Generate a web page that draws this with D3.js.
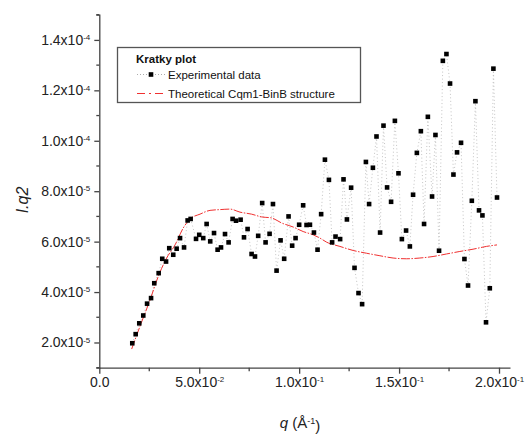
<!DOCTYPE html>
<html>
<head>
<meta charset="utf-8">
<script src="https://cdn.jsdelivr.net/npm/d3@7"></script>
<style>
  body { margin: 0; background: #fff; }
  svg { display: block; font-family: "Liberation Sans", Arial, sans-serif; }
  .axis path, .axis line { stroke: #444; stroke-width: 1.3; }
  .axis text { fill: #222; font-size: 14px; }
</style>
</head>
<body>
<div id="chart"></div>
<script>
// Experimental data: q (1/Å) and I.q2 (in units of 1e-5)
const expQ = [
  0.0165, 0.0182, 0.0200, 0.0220, 0.0239, 0.0259, 0.0275, 0.0297, 0.0315, 0.0334,
  0.0350, 0.0370, 0.0387, 0.0404, 0.0424, 0.0442, 0.0457, 0.0484, 0.0500, 0.0520,
  0.0537, 0.0555, 0.0574, 0.0592, 0.0609, 0.0629, 0.0647, 0.0667, 0.0684, 0.0707,
  0.0724, 0.0742, 0.0762, 0.0779, 0.0795, 0.0815, 0.0832, 0.0852, 0.0869, 0.0887,
  0.0907, 0.0925, 0.0947, 0.0965, 0.0982, 0.1000, 0.1020, 0.1037, 0.1054, 0.1074,
  0.1092, 0.1110, 0.1129, 0.1149, 0.1165, 0.1182, 0.1205, 0.1222, 0.1239, 0.1260,
  0.1277, 0.1297, 0.1315, 0.1334, 0.1350, 0.1369, 0.1387, 0.1405, 0.1422, 0.1440,
  0.1460, 0.1479, 0.1497, 0.1514, 0.1535, 0.1554, 0.1570, 0.1589, 0.1609, 0.1625,
  0.1644, 0.1665, 0.1682, 0.1700, 0.1719, 0.1737, 0.1755, 0.1772, 0.1790, 0.1810,
  0.1827, 0.1845, 0.1864, 0.1882, 0.1900, 0.1917, 0.1935, 0.1954, 0.1972, 0.1990
];
const expI = [
  1.97, 2.33, 2.76, 3.07, 3.54, 3.76, 4.35, 4.75, 5.32, 5.21,
  5.74, 5.48, 5.72, 6.14, 5.77, 6.84, 6.90, 6.11, 6.27, 6.14,
  6.70, 6.01, 6.34, 5.68, 5.77, 6.30, 5.97, 6.90, 6.83, 6.87,
  6.17, 6.50, 5.51, 5.41, 6.23, 7.53, 5.97, 6.31, 7.49, 4.85,
  6.05, 5.32, 7.00, 5.84, 6.14, 6.67, 7.44, 6.66, 6.67, 6.36,
  5.68, 7.09, 9.25, 8.45, 5.97, 6.20, 6.10, 8.47, 6.88, 8.14,
  4.96, 3.96, 3.52, 9.16, 7.49, 8.93, 10.17, 6.36, 10.60, 8.15,
  7.58, 10.79, 8.71, 6.10, 6.44, 5.81, 7.86, 9.52, 10.38, 6.70,
  10.95, 7.79, 10.23, 5.64, 13.17, 13.44, 12.27, 8.66, 9.54, 9.92,
  5.31, 4.26, 7.62, 11.57, 7.24, 7.04, 2.80, 4.15, 12.86, 7.75
];

// Theoretical Cqm1-BinB curve
const theoQ = [
  0.0162, 0.0203, 0.0254, 0.0295, 0.0337, 0.0379, 0.0420, 0.0454, 0.0504, 0.0554,
  0.0604, 0.0654, 0.0704, 0.0762, 0.0812, 0.0862, 0.0912, 0.0970, 0.1020, 0.1070,
  0.1104, 0.1137, 0.1204, 0.1270, 0.1337, 0.1404, 0.1470, 0.1537, 0.1604, 0.1670,
  0.1737, 0.1804, 0.1870, 0.1937, 0.1990
];
const theoI = [
  1.74, 2.63, 3.69, 4.62, 5.35, 5.87, 6.54, 6.90, 7.09, 7.24,
  7.27, 7.29, 7.17, 7.09, 6.98, 6.94, 6.74, 6.58, 6.40, 6.27,
  6.14, 5.98, 5.81, 5.65, 5.54, 5.44, 5.35, 5.32, 5.35, 5.41,
  5.51, 5.61, 5.70, 5.81, 5.87
];
const intensityUnit = 1e-5;

const xTicks = [0, 0.05, 0.1, 0.15, 0.2];
const xMinorTicks = [0.025, 0.075, 0.125, 0.175];
const yTicks = [2e-5, 4e-5, 6e-5, 8e-5, 1e-4, 1.2e-4, 1.4e-4];
const yMinorTicks = [1e-5, 3e-5, 5e-5, 7e-5, 9e-5, 1.1e-4, 1.3e-4, 1.5e-4];

const legendTitle = 'Kratky plot';
const legendNames = ['Experimental data', 'Theoretical Cqm1-BinB structure'];

const width = 527, height = 436;

const svg = d3.select('#chart').append('svg')
  .attr('width', width)
  .attr('height', height);

const x = d3.scaleLinear().domain([0, 0.2055]).range([99.3, 510]);
const y = d3.scaleLinear().domain([1e-5, 1.5e-4]).range([367.7, 14.7]);

// "5.0x10^-2" style labels
function sciLabel(sel) {
  sel.each(function(d) {
    const t = d3.select(this);
    t.text(null);
    if (d === 0) { t.text('0.0'); return; }
    const e = Math.floor(Math.log10(d) + 1e-9);
    const m = (d / Math.pow(10, e)).toFixed(1);
    t.append('tspan').text(m + 'x10');
    t.append('tspan').attr('dy', '-0.6em').attr('font-size', '8px').text(e);
  });
}

// X axis
const gx = svg.append('g')
  .attr('class', 'axis axis--x')
  .attr('transform', 'translate(0,' + y.range()[0] + ')')
  .call(d3.axisBottom(x).tickValues(xTicks).tickSize(6).tickSizeOuter(0).tickPadding(3));
gx.selectAll('.tick text').call(sciLabel);

gx.selectAll('.minor')
  .data(xMinorTicks)
  .enter().append('line')
    .attr('class', 'minor')
    .attr('x1', d => x(d)).attr('x2', d => x(d))
    .attr('y1', 0).attr('y2', 3.5);

// Y axis
const gy = svg.append('g')
  .attr('class', 'axis axis--y')
  .attr('transform', 'translate(' + x.range()[0] + ',0)')
  .call(d3.axisLeft(y).tickValues(yTicks).tickSize(5).tickSizeOuter(3).tickPadding(4));
gy.selectAll('.tick text').call(sciLabel);

gy.selectAll('.minor')
  .data(yMinorTicks)
  .enter().append('line')
    .attr('class', 'minor')
    .attr('y1', d => y(d)).attr('y2', d => y(d))
    .attr('x1', 0).attr('x2', -3);

// Axis titles
svg.append('text')
  .attr('transform', 'translate(28,200) rotate(-90)')
  .attr('text-anchor', 'middle')
  .attr('font-size', '16px')
  .attr('font-style', 'italic')
  .attr('fill', '#222')
  .text('I.q2');

const xTitle = svg.append('text')
  .attr('x', 300)
  .attr('y', 428)
  .attr('text-anchor', 'middle')
  .attr('font-size', '15px')
  .attr('fill', '#222');
xTitle.append('tspan').attr('font-style', 'italic').text('q');
xTitle.append('tspan').text(' (Å');
xTitle.append('tspan').attr('dy', '-0.5em').attr('font-size', '9px').text('-1');
xTitle.append('tspan').attr('dy', '0.5em').text(')');

// Experimental data
const expData = expQ.map((q, i) => ({q: q, v: expI[i] * intensityUnit}));
const theoData = theoQ.map((q, i) => ({q: q, v: theoI[i] * intensityUnit}));

const line = d3.line()
  .x(d => x(d.q))
  .y(d => y(d.v));

svg.append('path')
  .datum(expData)
  .attr('d', line)
  .attr('fill', 'none')
  .attr('stroke', '#aaa')
  .attr('stroke-width', 0.7)
  .attr('stroke-dasharray', '1,2.5');

svg.append('path')
  .datum(theoData)
  .attr('d', line.curve(d3.curveMonotoneX))
  .attr('fill', 'none')
  .attr('stroke', '#f03030')
  .attr('stroke-width', 1)
  .attr('stroke-dasharray', '9,1.5,1.5,1.5');

svg.append('g')
  .attr('class', 'dots')
  .selectAll('rect')
  .data(expData)
  .enter().append('rect')
    .attr('x', d => x(d.q) - 2.3)
    .attr('y', d => y(d.v) - 2.3)
    .attr('width', 4.6)
    .attr('height', 4.6)
    .attr('fill', '#000');

// Legend
const legend = svg.append('g').attr('class', 'legend');

legend.append('rect')
  .attr('x', 117.5).attr('y', 47.5)
  .attr('width', 243).attr('height', 55)
  .attr('fill', '#fff')
  .attr('stroke', '#555')
  .attr('stroke-width', 1.3);

legend.append('text')
  .attr('x', 136).attr('y', 63)
  .attr('font-size', '11.5px')
  .attr('font-weight', 'bold')
  .attr('fill', '#111')
  .text(legendTitle);

// experimental symbol
legend.append('line')
  .attr('x1', 137).attr('x2', 165)
  .attr('y1', 74.5).attr('y2', 74.5)
  .attr('stroke', '#888').attr('stroke-width', 0.7)
  .attr('stroke-dasharray', '1,2');
legend.append('rect')
  .attr('x', 148.7).attr('y', 72.2).attr('width', 4.6).attr('height', 4.6)
  .attr('fill', '#000');

// theoretical symbol
legend.append('line')
  .attr('x1', 137).attr('x2', 165)
  .attr('y1', 93.5).attr('y2', 93.5)
  .attr('stroke', '#f03030').attr('stroke-width', 1.2)
  .attr('stroke-dasharray', '8,4,2,4');

legend.selectAll('.lbl')
  .data(legendNames)
  .enter().append('text')
    .attr('class', 'lbl')
    .attr('x', 168)
    .attr('y', (d, i) => 78.5 + i * 19)
    .attr('font-size', '11.5px')
    .attr('fill', '#111')
    .text(d => d);
</script>
</body>
</html>
